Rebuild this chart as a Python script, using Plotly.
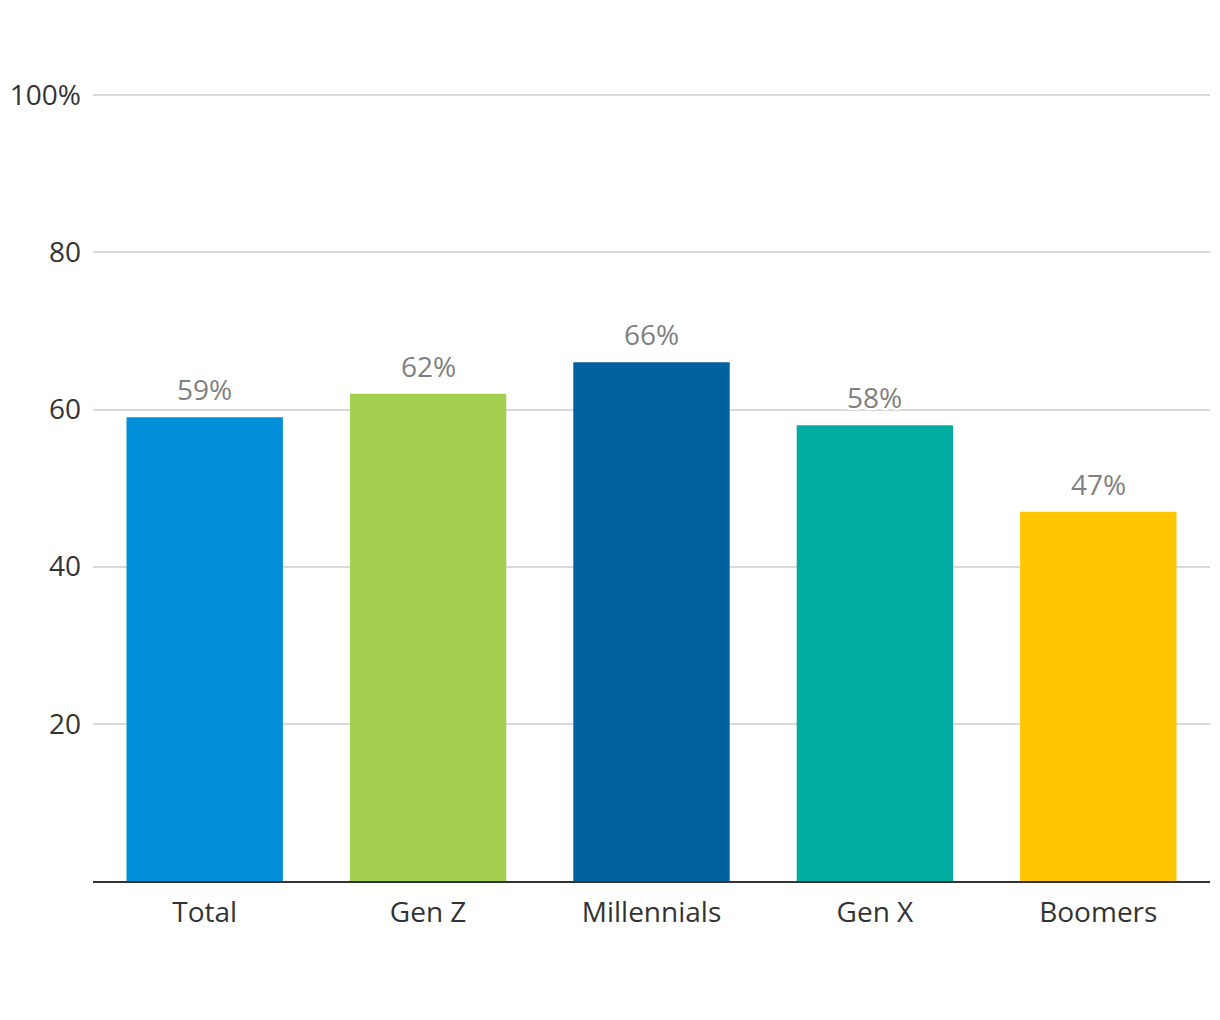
import plotly.graph_objects as go

categories = ["Total", "Gen Z", "Millennials", "Gen X", "Boomers"]
values = [59, 62, 66, 58, 47]
colors = ["#008fd8", "#a5cf4f", "#0061a1", "#00aba0", "#ffc501"]
tick_vals = [20, 40, 60, 80, 100]
tick_text = ["20", "40", "60", "80", "100%"]

FONT = "Open Sans"
SIZE = 28
HALO = ("2px 0 0 white, -2px 0 0 white, 0 2px 0 white, 0 -2px 0 white, "
        "2px 2px 0 white, -2px -2px 0 white, 2px -2px 0 white, -2px 2px 0 white")

fig = go.Figure()
fig.add_trace(go.Bar(
    x=categories, y=values, marker=dict(color=colors, line=dict(width=0)),
    hoverinfo="skip", showlegend=False,
))

for c, v in zip(categories, values):
    fig.add_annotation(
        x=c, y=v, text=f"{v}%", showarrow=False, yanchor="bottom", yshift=7,
        font=dict(family=FONT, size=SIZE, color="#808080", shadow=HALO),
    )

fig.update_layout(
    width=1212, height=1012,
    margin=dict(l=85, r=10, t=86, b=139),
    plot_bgcolor="white", paper_bgcolor="white",
    bargap=0.3,
    font=dict(family=FONT, size=SIZE, color="#333333"),
    xaxis=dict(
        showgrid=False, showline=True, linecolor="#333333", linewidth=2,
        ticks="", tickfont=dict(family=FONT, size=SIZE, color="#333333"),
        ticklabelstandoff=5, automargin=False,
    ),
    yaxis=dict(
        range=[0, 100.15], tickvals=tick_vals, ticktext=tick_text,
        showgrid=True, gridcolor="#d9d9d9", gridwidth=1.5,
        zeroline=False, showline=False, ticks="",
        tickfont=dict(family=FONT, size=SIZE, color="#333333"),
        ticklabelstandoff=11, automargin=False,
    ),
)

fig.write_html("out.html")
